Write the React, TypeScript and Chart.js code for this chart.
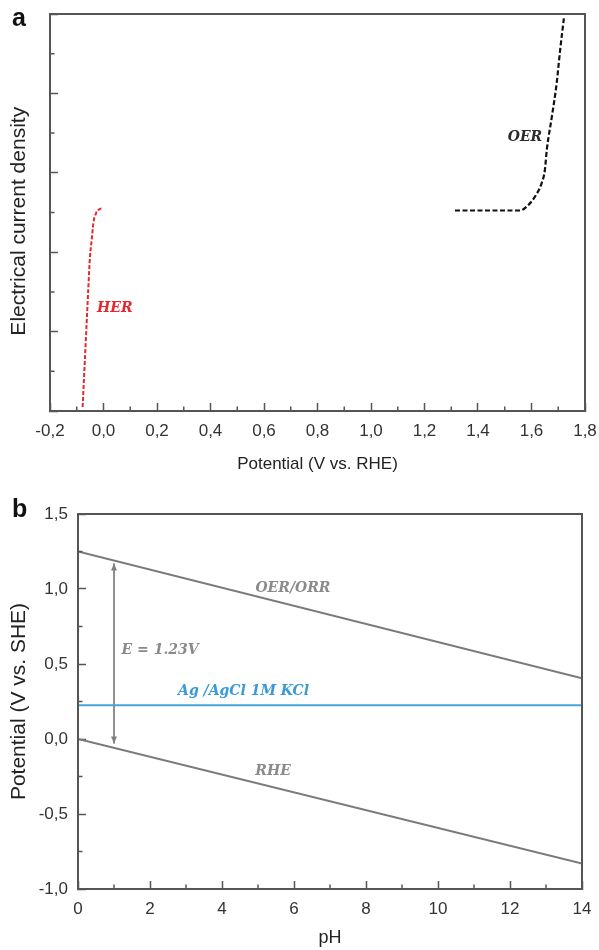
import React, { useEffect, useRef } from 'react';
import { Chart, registerables } from 'chart.js';

Chart.register(...registerables);

// ---------- Panel a data ----------
const herPotential = [-0.078, -0.069, -0.057, -0.0505, -0.044, -0.038, -0.028, -0.013, -0.003];
const herCurrent = [0.1, 1.37, 3.05, 3.89, 4.31, 4.73, 4.98, 5.09, 5.11];
const oerPotential = [1.314, 1.557, 1.582, 1.613, 1.638, 1.65, 1.657, 1.676, 1.694, 1.707, 1.721];
const oerCurrent = [5.05, 5.05, 5.15, 5.4, 5.74, 6.07, 6.57, 7.41, 8.25, 9.09, 9.89];
const potentialTicks = [-0.2, 0, 0.2, 0.4, 0.6, 0.8, 1.0, 1.2, 1.4, 1.6, 1.8];
const potentialMinorTicks = [-0.1, 0.1, 0.3, 0.5, 0.7, 0.9, 1.1, 1.3, 1.5, 1.7];
const currentTicks = [0, 2, 4, 6, 8, 10];
const currentMinorTicks = [1, 3, 5, 7, 9];

// ---------- Panel b data ----------
const phValues = [0, 14];
const oerOrrPotential = [1.25, 0.405];
const rhePotential = [0.0, -0.83];
const agAgClPotential = [0.225, 0.225];
const arrowPh = [1, 1];
const arrowPotential = [1.17, -0.03];
const phTicks = [0, 2, 4, 6, 8, 10, 12, 14];
const phMinorTicks = [1, 3, 5, 7, 9, 11, 13];
const sheTicks = [-1.0, -0.5, 0.0, 0.5, 1.0, 1.5];
const sheMinorTicks = [-0.75, -0.25, 0.25, 0.75, 1.25];

// annotation anchors (data units) kept separately
type Ann = { text: string; x: number; y: number; color: string; align: CanvasTextAlign };
const panelALabels: Ann[] = [
  { text: 'HER', x: -0.024, y: 2.59, color: '#e8262d', align: 'left' },
  { text: 'OER', x: 1.64, y: 6.9, color: '#2a2a2a', align: 'right' },
];
const panelBLabels: Ann[] = [
  { text: 'OER/ORR', x: 5.97, y: 1.007, color: '#8a8a8a', align: 'center' },
  { text: 'E = 1.23V', x: 1.21, y: 0.593, color: '#8a8a8a', align: 'left' },
  { text: 'Ag /AgCl 1M KCl', x: 2.78, y: 0.315, color: '#3a9ad6', align: 'left' },
  { text: 'RHE', x: 5.42, y: -0.218, color: '#8a8a8a', align: 'center' },
];

const AXIS_COLOR = '#555555';
const SANS = '"Liberation Sans", Arial, sans-serif';
const SERIF = '"DejaVu Serif", serif';

const comma1 = (v: any) => Number(v).toFixed(1).replace('.', ',');

function decorPlugin(minorX: number[], minorY: number[], labels: Ann[], withArrow: boolean) {
  return {
    id: 'decor' + Math.random().toString(36).slice(2),
    afterDatasetsDraw(chart: any) {
      const { ctx, chartArea } = chart;
      const xs = chart.scales.x;
      const ys = chart.scales.y;
      ctx.save();
      ctx.strokeStyle = AXIS_COLOR;
      ctx.lineWidth = 1.5;
      ctx.beginPath();
      minorX.forEach((v) => {
        const px = xs.getPixelForValue(v);
        ctx.moveTo(px, chartArea.bottom);
        ctx.lineTo(px, chartArea.bottom - 4.5);
      });
      minorY.forEach((v) => {
        const py = ys.getPixelForValue(v);
        ctx.moveTo(chartArea.left, py);
        ctx.lineTo(chartArea.left + 4.5, py);
      });
      ctx.stroke();
      ctx.lineWidth = 2;
      ctx.strokeRect(chartArea.left, chartArea.top, chartArea.right - chartArea.left, chartArea.bottom - chartArea.top);
      if (withArrow) {
        const ax = xs.getPixelForValue(arrowPh[0]);
        const yTop = ys.getPixelForValue(arrowPotential[0]);
        const yBot = ys.getPixelForValue(arrowPotential[1]);
        ctx.fillStyle = '#808080';
        ctx.beginPath();
        ctx.moveTo(ax, yTop);
        ctx.lineTo(ax - 3, yTop + 7);
        ctx.lineTo(ax + 3, yTop + 7);
        ctx.closePath();
        ctx.fill();
        ctx.beginPath();
        ctx.moveTo(ax, yBot);
        ctx.lineTo(ax - 3, yBot - 7);
        ctx.lineTo(ax + 3, yBot - 7);
        ctx.closePath();
        ctx.fill();
      }
      ctx.font = 'italic 600 14px ' + SERIF;
      ctx.textBaseline = 'middle';
      labels.forEach((l) => {
        ctx.fillStyle = l.color;
        ctx.textAlign = l.align;
        ctx.fillText(l.text, xs.getPixelForValue(l.x), ys.getPixelForValue(l.y));
      });
      ctx.restore();
    },
  };
}

const fitX = (h: number) => (s: any) => { s.height = h; s.paddingLeft = 0; s.paddingRight = 0; };
const fitY = (w: number) => (s: any) => { s.width = w; s.paddingTop = 0; s.paddingBottom = 0; };

function PanelA() {
  const ref = useRef<HTMLCanvasElement>(null);
  useEffect(() => {
    const chart = new Chart(ref.current!, {
      type: 'line',
      data: {
        datasets: [
          {
            data: herPotential.map((x, i) => ({ x, y: herCurrent[i] })),
            borderColor: '#e8262d',
            borderWidth: 2,
            borderDash: [4, 2],
            pointRadius: 0,
            cubicInterpolationMode: 'monotone',
          },
          {
            data: oerPotential.map((x, i) => ({ x, y: oerCurrent[i] })),
            borderColor: '#111111',
            borderWidth: 2.2,
            borderDash: [5, 2.5],
            pointRadius: 0,
            cubicInterpolationMode: 'monotone',
          },
        ],
      },
      options: {
        animation: false,
        responsive: false,
        maintainAspectRatio: false,
        layout: { padding: { top: 14, right: 14, left: 0, bottom: 0 } },
        plugins: { legend: { display: false }, tooltip: { enabled: false } },
        scales: {
          x: {
            type: 'linear',
            min: -0.2,
            max: 1.8,
            afterBuildTicks: (s: any) => { s.ticks = potentialTicks.map((v) => ({ value: v })); },
            afterFit: fitX(64),
            grid: { drawOnChartArea: false, tickLength: -8, tickColor: AXIS_COLOR, tickWidth: 1.5 },
            border: { color: AXIS_COLOR, width: 2 },
            ticks: { padding: 18, color: '#333333', font: { family: SANS, size: 17 }, callback: comma1, maxRotation: 0, autoSkip: false },
            title: { display: true, text: 'Potential (V vs. RHE)', color: '#222222', font: { family: SANS, size: 17 }, padding: { top: 0, bottom: 0 } },
          },
          y: {
            type: 'linear',
            min: 0,
            max: 10,
            afterBuildTicks: (s: any) => { s.ticks = currentTicks.map((v) => ({ value: v })); },
            afterFit: fitY(50),
            grid: { drawOnChartArea: false, tickLength: -8, tickColor: AXIS_COLOR, tickWidth: 1.5 },
            border: { color: AXIS_COLOR, width: 2 },
            ticks: { display: false },
            title: { display: true, text: 'Electrical current density   ', color: '#222222', font: { family: SANS, size: 21 }, padding: { top: 7, bottom: 0 } },
          },
        },
      },
      plugins: [decorPlugin(potentialMinorTicks, currentMinorTicks, panelALabels, false)],
    } as any);
    return () => chart.destroy();
  }, []);
  return <canvas ref={ref} width={599} height={475} style={{ display: 'block' }} />;
}

function PanelB() {
  const ref = useRef<HTMLCanvasElement>(null);
  useEffect(() => {
    const grey = '#7a7a7a';
    const chart = new Chart(ref.current!, {
      type: 'line',
      data: {
        datasets: [
          { data: phValues.map((x, i) => ({ x, y: oerOrrPotential[i] })), borderColor: grey, borderWidth: 2, pointRadius: 0 },
          { data: phValues.map((x, i) => ({ x, y: rhePotential[i] })), borderColor: grey, borderWidth: 2, pointRadius: 0 },
          { data: phValues.map((x, i) => ({ x, y: agAgClPotential[i] })), borderColor: '#45a3dc', borderWidth: 2, pointRadius: 0 },
          { data: arrowPh.map((x, i) => ({ x, y: arrowPotential[i] })), borderColor: '#808080', borderWidth: 1, pointRadius: 0 },
        ],
      },
      options: {
        animation: false,
        responsive: false,
        maintainAspectRatio: false,
        layout: { padding: { top: 39, right: 17, left: 0, bottom: 0 } },
        plugins: { legend: { display: false }, tooltip: { enabled: false } },
        scales: {
          x: {
            type: 'linear',
            min: 0,
            max: 14,
            afterBuildTicks: (s: any) => { s.ticks = phTicks.map((v) => ({ value: v })); },
            afterFit: fitX(61),
            grid: { drawOnChartArea: false, tickLength: -8, tickColor: AXIS_COLOR, tickWidth: 1.5 },
            border: { color: AXIS_COLOR, width: 2 },
            ticks: { padding: 18, color: '#333333', font: { family: SANS, size: 17 }, callback: (v: any) => String(v), maxRotation: 0, autoSkip: false },
            title: { display: true, text: 'pH', color: '#222222', font: { family: SANS, size: 18 }, padding: { top: 0, bottom: 1 } },
          },
          y: {
            type: 'linear',
            min: -1,
            max: 1.5,
            afterBuildTicks: (s: any) => { s.ticks = sheTicks.map((v) => ({ value: v })); },
            afterFit: fitY(78),
            grid: { drawOnChartArea: false, tickLength: -8, tickColor: AXIS_COLOR, tickWidth: 1.5 },
            border: { color: AXIS_COLOR, width: 2 },
            ticks: { padding: 18, color: '#333333', font: { family: SANS, size: 17 }, callback: comma1, autoSkip: false },
            title: { display: true, text: 'Potential (V vs. SHE)', color: '#222222', font: { family: SANS, size: 21 }, padding: { top: 7, bottom: 0 } },
          },
        },
      },
      plugins: [decorPlugin(phMinorTicks, sheMinorTicks, panelBLabels, true)],
    } as any);
    return () => chart.destroy();
  }, []);
  return <canvas ref={ref} width={599} height={475} style={{ display: 'block' }} />;
}

export default function App() {
  const letter: React.CSSProperties = {
    position: 'absolute',
    fontFamily: SANS,
    fontWeight: 'bold',
    fontSize: 25,
    lineHeight: '25px',
    color: '#111',
  };
  return (
    <div style={{ position: 'absolute', left: 0, top: 0, width: 599, height: 950, background: '#fff' }}>
      <PanelA />
      <PanelB />
      <div style={{ ...letter, left: 12, top: 5 }}>a</div>
      <div style={{ ...letter, left: 12, top: 496 }}>b</div>
    </div>
  );
}
